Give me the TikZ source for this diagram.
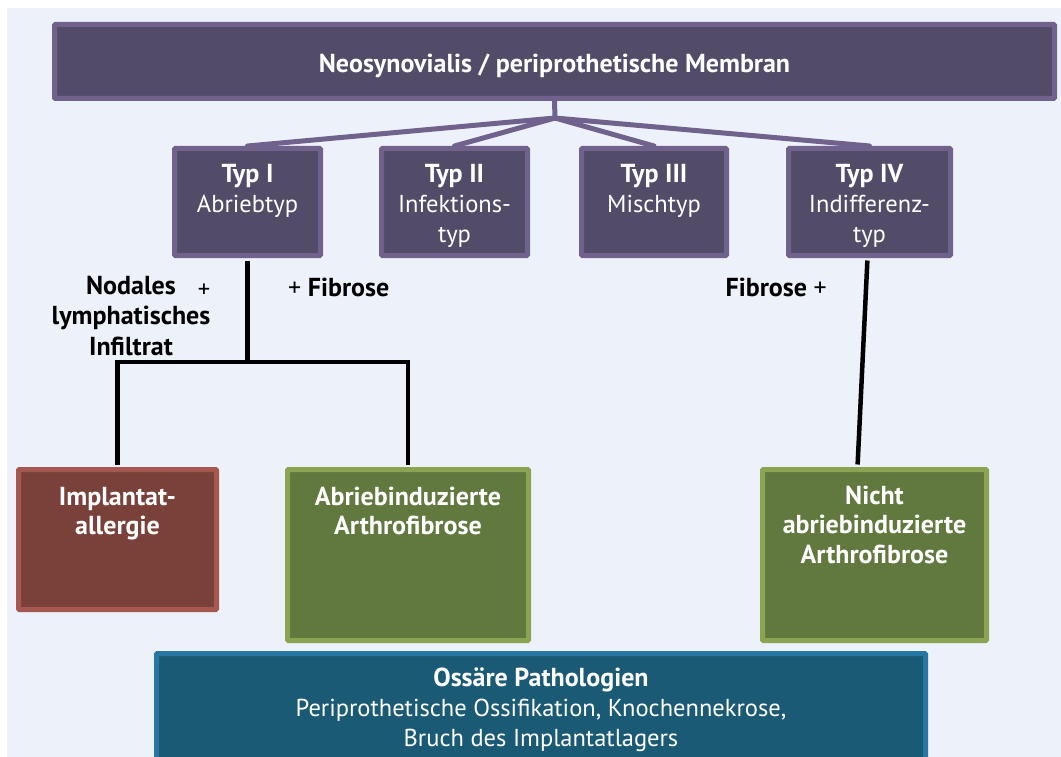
\documentclass[tikz,border=0pt]{standalone}
\usepackage{fontspec}
\setmainfont{PT Sans}
\usetikzlibrary{calc}

\definecolor{bgblue}{RGB}{237,241,249}
\definecolor{typfill}{RGB}{82,76,104}
\definecolor{typline}{RGB}{112,98,140}
\definecolor{allfill}{RGB}{122,64,58}
\definecolor{allline}{RGB}{166,88,80}
\definecolor{fibfill}{RGB}{97,120,62}
\definecolor{fibline}{RGB}{138,164,82}
\definecolor{ossfill}{RGB}{27,90,117}
\definecolor{ossline}{RGB}{38,120,162}

\newcommand{\fett}[1]{{\fontsize{26}{30}\selectfont\bfseries #1}}

\tikzset{
  box/.style={line width=5pt, rounded corners=1pt, inner sep=0pt},
  typbox/.style={box, draw=typline, fill=typfill, minimum width=146pt, minimum height=107pt},
  txt/.style={white, align=center, font=\fontsize{24.5}{30}\selectfont, inner sep=0pt},
  fetttxt/.style={white, align=center, font=\fontsize{26}{29}\selectfont\bfseries, inner sep=0pt},
  lbl/.style={black, align=center, font=\fontsize{26}{30.5}\selectfont\bfseries, inner sep=0pt},
  ast/.style={line width=5pt, typline, line cap=round, line join=round},
  zweig/.style={line width=4.5pt, black},
}

\begin{document}
\begin{tikzpicture}[x=1pt, y=-1pt]
            \useasboundingbox (0,0) rectangle (1061,757);
            \fill [bgblue] (7,8) rectangle (1061,757);

            %% Membran
            \node [box, draw=typline, fill=typfill, minimum width=1000pt, minimum height=74pt] (top) at (554.5,61.5) {};
            \node [fetttxt, anchor=base] (toptxt) at (554.5,73) {Neosynovialis / periprothetische Membran};

            %% Typen (Grundlinie = letzte Zeile)
            \node [typbox] (t1) at (247.5,202) {};
            \node [typbox] (t2) at (454.5,202) {};
            \node [typbox, minimum width=145pt] (t3) at (654,202) {};
            \node [typbox, minimum width=162pt] (t4) at (869.5,202) {};
            \node [txt, anchor=base] (t1txt) at (247.5,212) {\fett{Typ I}\\Abriebtyp};
            \node [txt, anchor=base] (t2txt) at (454.5,242) {\fett{Typ II}\\Infektions-\\typ};
            \node [txt, anchor=base] (t3txt) at (654,212) {\fett{Typ III}\\Mischtyp};
            \node [txt, anchor=base] (t4txt) at (869.5,242) {\fett{Typ IV}\\Indifferenz-\\typ};

            %% Ergebnisse
            \node [box, draw=allline, fill=allfill, minimum width=198pt, minimum height=140pt] (allergie) at (117.5,539.5) {};
            \node [box, draw=fibline, fill=fibfill, minimum width=241pt, minimum height=171pt] (abrieb) at (408,555) {};
            \node [box, draw=fibline, fill=fibfill, minimum width=224pt, minimum height=171pt] (nicht) at (874.5,555) {};
            \node [fetttxt, anchor=base] (allergietxt) at (117.5,534) {Implantat-\\allergie};
            \node [fetttxt, anchor=base] (abriebtxt) at (408,534) {Abriebinduzierte\\Arthrofibrose};
            \node [fetttxt, anchor=base, font=\fontsize{26}{29.5}\selectfont\bfseries] (nichttxt) at (874.5,563) {Nicht\\abriebinduzierte\\Arthrofibrose};

            %% Knochen
            \node [box, draw=ossline, fill=ossfill, minimum width=769pt, minimum height=119pt] (oss) at (541,713) {};
            \node [txt, anchor=base] (osstxt) at (541,746) {\fett{Ossäre Pathologien}\\Periprothetische Ossifikation, Knochennekrose,\\Bruch des Implantatlagers};

            %% Beschriftungen
            \node [lbl, anchor=base] (nodal) at (131,355) {Nodales\\lymphatisches\\Infiltrat};
            \node [txt, black, anchor=base] (plus1) at (204,297) {+};
            \node [lbl, anchor=base west] (fib1) at (288,296) {{\mdseries +}~Fibrose};
            \node [lbl, anchor=base east] (fib2) at (827,296) {Fibrose~{\mdseries +}};

            %% Verbindungen
            \coordinate (hub) at (555,118);
            \draw [ast] (top.south) -- (hub);
            \foreach \t in {t1,t2,t3,t4}
                \draw [ast] (hub) -- (\t.north);

            \coordinate (split) at (t1.south |- 0,362);
            \draw [zweig, shorten <=2.5pt] (t1.south) -- (split);
            \draw [zweig, shorten <=2.5pt, shorten >=2.5pt] (allergie.north) |- (split) -| (abrieb.north);
            \draw [zweig, shorten <=2.5pt, shorten >=2.5pt] ([xshift=-2pt]t4.south) -- ([xshift=-17pt]nicht.north);
        \end{tikzpicture}
\end{document}
